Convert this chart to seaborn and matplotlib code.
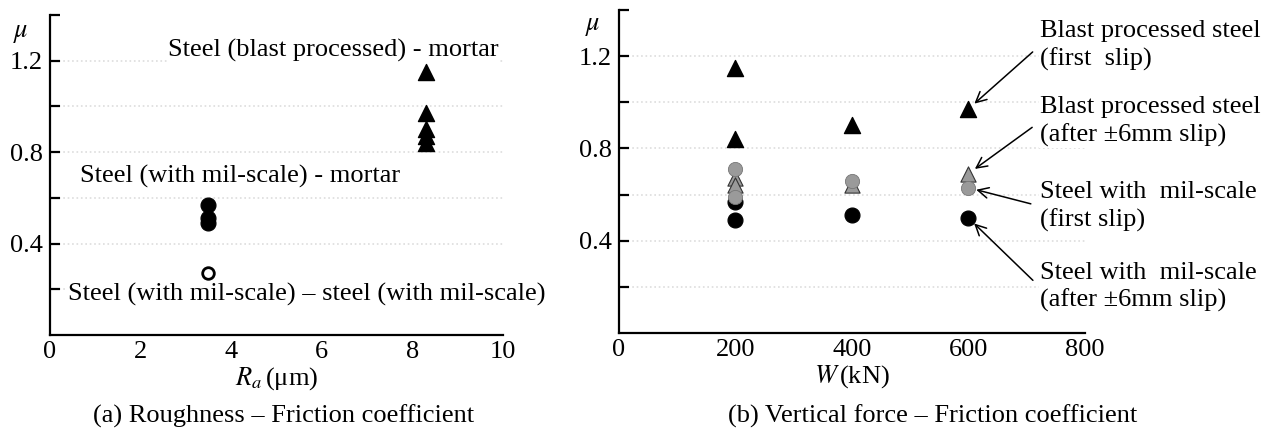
import matplotlib
matplotlib.use("Agg")
import matplotlib.pyplot as plt
from matplotlib.ticker import FixedLocator
import seaborn as sns

# (a) roughness Ra (um) vs friction coefficient
MIL_MORTAR_RA = [3.5, 3.5, 3.5]
MIL_MORTAR_MU = [0.57, 0.51, 0.49]
MIL_STEEL_RA = [3.5]
MIL_STEEL_MU = [0.27]
BLAST_MORTAR_RA = [8.3, 8.3, 8.3, 8.3, 8.3]
BLAST_MORTAR_MU = [1.15, 0.97, 0.90, 0.87, 0.84]

# (b) vertical force W (kN) vs friction coefficient
W_KN = [200, 200, 400, 600]
BLAST_FIRST = [1.15, 0.84, 0.90, 0.97]
BLAST_AFTER = [0.67, 0.64, 0.64, 0.69]
MIL_FIRST = [0.71, 0.59, 0.66, 0.63]
MIL_AFTER = [0.57, 0.49, 0.51, 0.50]

X_TICKS_A = [0, 2, 4, 6, 8, 10]
X_TICKS_B = [0, 200, 400, 600, 800]
Y_MAJOR = [0.4, 0.8, 1.2]
Y_MINOR = [0.2, 0.6, 1.0, 1.4]
Y_GRID = [0.2, 0.4, 0.6, 0.8, 1.0, 1.2]

sns.set_theme(style="white")
plt.rcParams["font.family"] = ["Liberation Serif", "DejaVu Serif"]
plt.rcParams["mathtext.fontset"] = "stix"
for key in ["text.color", "axes.labelcolor", "xtick.color", "ytick.color"]:
    plt.rcParams[key] = "black"

FS = 19
GRAY = "#9a9a9a"

fig = plt.figure(figsize=(12.72, 4.32), dpi=100)
ax1 = fig.add_axes([0.0393, 0.2245, 0.356, 0.741])
ax2 = fig.add_axes([0.4866, 0.229, 0.366, 0.748])


def style_axis(ax, xticks, xlim):
    ax.set_xlim(*xlim)
    ax.set_ylim(0, 1.4)
    ax.set_xticks(xticks)
    ax.set_xticklabels([str(t) for t in xticks], fontsize=FS)
    ax.yaxis.set_major_locator(FixedLocator(Y_MAJOR))
    ax.yaxis.set_minor_locator(FixedLocator(Y_MINOR))
    ax.set_yticklabels([f"{v:.1f}" for v in Y_MAJOR], fontsize=FS)
    for s in ["top", "right"]:
        ax.spines[s].set_visible(False)
    for s in ["left", "bottom"]:
        ax.spines[s].set_color("black")
        ax.spines[s].set_linewidth(1.6)
    ax.spines["left"].set_clip_on(False)
    ax.tick_params(axis="x", direction="in", length=8, width=2.5, color="black", pad=4)
    ax.tick_params(axis="y", which="both", direction="in", length=7, width=1.6,
                   color="black", left=True, pad=5)
    for g in Y_GRID:
        ax.axhline(g, color="#dddddd", linestyle=":", linewidth=1.2, zorder=0)
    ax.set_ylabel("")


# ---- panel (a)
style_axis(ax1, X_TICKS_A, (0, 10))
sns.scatterplot(x=MIL_MORTAR_RA, y=MIL_MORTAR_MU, ax=ax1, marker="o", s=115,
                color="black", edgecolor="black", zorder=3)
sns.scatterplot(x=MIL_STEEL_RA, y=MIL_STEEL_MU, ax=ax1, marker="o", s=70,
                color="white", edgecolor="black", linewidth=2, zorder=3)
sns.scatterplot(x=BLAST_MORTAR_RA, y=BLAST_MORTAR_MU, ax=ax1, marker="^", s=135,
                color="black", edgecolor="black", zorder=3)
bb = dict(facecolor="white", edgecolor="none", pad=0.5)
ax1.text(2.6, 1.244, "Steel (blast processed) - mortar", fontsize=FS, ha="left",
         va="center", bbox=bb, zorder=2)
ax1.text(0.66, 0.695, "Steel (with mil-scale) - mortar", fontsize=FS, ha="left",
         va="center", bbox=bb, zorder=2)
ax1.text(0.4, 0.176, "Steel (with mil-scale) \u2013 steel (with mil-scale)", fontsize=FS,
         ha="left", va="center", bbox=bb, zorder=2)
ax1.set_xlabel("$R_a\\,$(\u03bcm)", fontsize=FS, labelpad=2)
fig.text(13 / 1272, 1 - 34 / 432, r"$\mu$", fontsize=FS, ha="left", va="center")

# ---- panel (b)
style_axis(ax2, X_TICKS_B, (0, 800))
sns.scatterplot(x=W_KN, y=BLAST_FIRST, ax=ax2, marker="^", s=135, color="black",
                edgecolor="black", zorder=3)
sns.scatterplot(x=W_KN, y=MIL_AFTER, ax=ax2, marker="o", s=115, color="black",
                edgecolor="black", zorder=3)
sns.scatterplot(x=W_KN, y=BLAST_AFTER, ax=ax2, marker="^", s=120, color=GRAY,
                edgecolor="#333333", linewidth=0.8, zorder=4)
sns.scatterplot(x=W_KN, y=MIL_FIRST, ax=ax2, marker="o", s=105, color=GRAY,
                edgecolor="#777777", linewidth=0.6, zorder=5)
ax2.set_xlabel("$W\\,$(kN)", fontsize=FS, labelpad=2)
fig.text(585 / 1272, 1 - 27 / 432, r"$\mu$", fontsize=FS, ha="left", va="center")

arrow = dict(arrowstyle="->", color="black", lw=1.1, shrinkA=6, shrinkB=6,
             relpos=(0, 0.5))
notes = [
    ("Blast processed steel\n(first  slip)", (600, 0.97), 1.245),
    ("Blast processed steel\n(after \u00b16mm slip)", (600, 0.69), 0.915),
    ("Steel with  mil-scale\n(first slip)", (600, 0.63), 0.55),
    ("Steel with  mil-scale\n(after \u00b16mm slip)", (600, 0.50), 0.2),
]
for label, xy, ty in notes:
    ax2.annotate(label, xy=xy, xytext=(723, ty), fontsize=FS, ha="left", va="center",
                 linespacing=1.3, arrowprops=arrow, annotation_clip=False,
                 bbox=dict(facecolor="white", edgecolor="none", pad=0.5))

fig.text(284 / 1272, 1 - 416 / 432, "(a) Roughness \u2013 Friction coefficient",
         fontsize=FS, ha="center", va="center")
fig.text(933 / 1272, 1 - 416 / 432, "(b) Vertical force \u2013 Friction coefficient",
         fontsize=FS, ha="center", va="center")

plt.savefig("out.png", dpi=100)
plt.close()
